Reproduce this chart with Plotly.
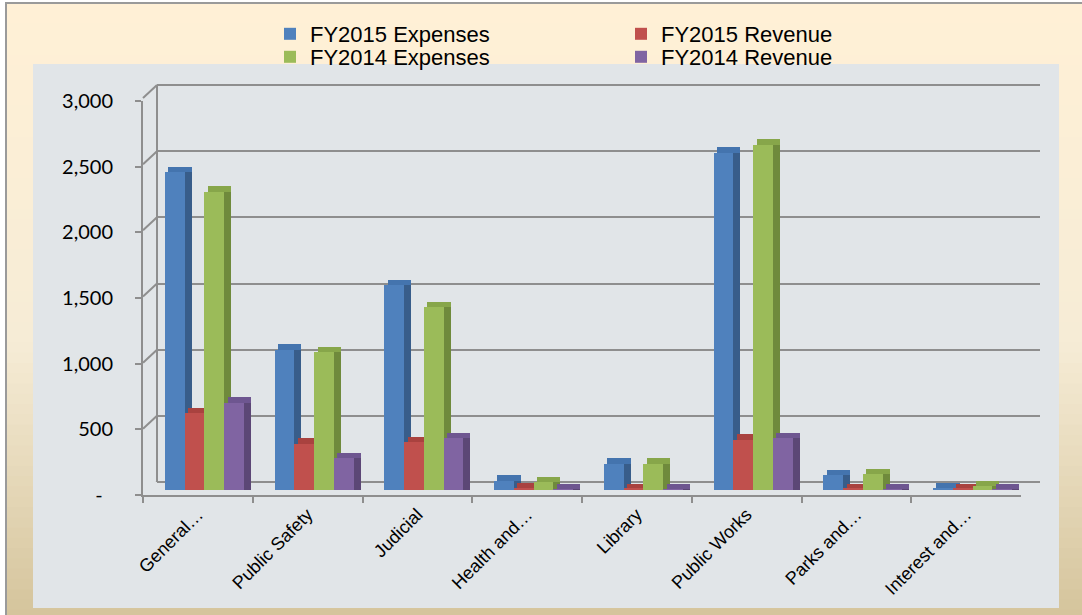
import plotly.graph_objects as go

# ---------------- data ----------------
categories = ["General…", "Public Safety", "Judicial", "Health and…",
              "Library", "Public Works", "Parks and…", "Interest and…"]
fy15_expenses = [2400, 1060, 1550, 70, 200, 2550, 110, 10]
fy15_revenue = [580, 350, 360, 10, 8, 380, 8, 8]
fy14_expenses = [2255, 1040, 1380, 60, 200, 2610, 120, 30]
fy14_revenue = [660, 240, 390, 4, 4, 390, 4, 4]

series_names = ["FY2015 Expenses", "FY2015 Revenue", "FY2014 Expenses", "FY2014 Revenue"]
series_values = [fy15_expenses, fy15_revenue, fy14_expenses, fy14_revenue]

y_ticks = [0, 500, 1000, 1500, 2000, 2500, 3000]
y_ticktext = ["-\u00a0\u00a0", "500", "1,000", "1,500", "2,000", "2,500", "3,000"]

# ---------------- styles ----------------
W, H = 1082, 615
front_colors = ["#4f81bd", "#c0504d", "#9bbb59", "#8064a2"]
side_colors = ["#385d8a", "#8c3836", "#6f8a3c", "#5c4776"]
top_colors = ["#4474ae", "#a9423f", "#87a64a", "#6e5690"]
offsets = [-0.30, -0.12, 0.06, 0.24]
bar_w = 0.18
side_w = 0.064
cap_h = 40
legend_ids = ["legend", "legend2", "legend3", "legend4"]
legend_pos = [(270, 13), (621, 13), (270, 36), (621, 36)]  # px (left, top)

BACK_BOTTOM_PX, BACK_PX_PER_UNIT = 482, 0.13233
BACK_RANGE_TOP = 3100


def fx(px):
    return px / W


def fy(py):
    return 1 - py / H


fig = go.Figure()

# invisible trace to create the back-wall subplot
fig.add_trace(go.Scatter(x=[], y=[], xaxis="x", yaxis="y", showlegend=False, hoverinfo="skip"))

for i, (name, vals) in enumerate(zip(series_names, series_values)):
    # top face
    fig.add_trace(go.Bar(
        x=categories, y=[cap_h] * len(vals), base=vals,
        offset=offsets[i] + 0.03, width=bar_w + side_w - 0.03,
        marker=dict(color=top_colors[i], line=dict(width=0)),
        xaxis="x2", yaxis="y2", showlegend=False, hoverinfo="skip"))
    # side face
    fig.add_trace(go.Bar(
        x=categories, y=vals,
        offset=offsets[i] + bar_w, width=side_w,
        marker=dict(color=side_colors[i], line=dict(width=0)),
        xaxis="x2", yaxis="y2", showlegend=False, hoverinfo="skip"))
    # front face
    fig.add_trace(go.Bar(
        x=categories, y=vals, name=name,
        offset=offsets[i], width=bar_w,
        marker=dict(color=front_colors[i], line=dict(width=0)),
        xaxis="x2", yaxis="y2", legend=legend_ids[i]))

fig.add_trace(go.Scatter(x=categories, y=[None] * len(categories), xaxis="x3", yaxis="y3",
                         showlegend=False, hoverinfo="skip"))

grid_col = "#8e8e8e"

shapes = []
# outer gradient background (vertical bands)
top_rgb = (255, 240, 214)
mid_rgb = (246, 236, 214)
bot_rgb = (213, 196, 156)
n_bands = 60
y_start, y_end = 3, 620
for k in range(n_bands):
    t = k / (n_bands - 1)
    if t < 0.55:
        u = t / 0.55
        c = [round(a + (b - a) * u) for a, b in zip(top_rgb, mid_rgb)]
    else:
        u = (t - 0.55) / 0.45
        c = [round(a + (b - a) * u) for a, b in zip(mid_rgb, bot_rgb)]
    y0 = y_start + (y_end - y_start) * k / n_bands
    y1 = y_start + (y_end - y_start) * (k + 1) / n_bands + 1
    shapes.append(dict(type="rect", xref="paper", yref="paper", layer="below",
                       x0=fx(6), x1=fx(1090), y0=fy(y1), y1=fy(y0),
                       fillcolor="rgb(%d,%d,%d)" % tuple(c), line=dict(width=0)))
# outer frame
shapes.append(dict(type="rect", xref="paper", yref="paper", layer="below",
                   x0=fx(6), x1=fx(1090), y0=fy(625), y1=fy(3),
                   fillcolor="rgba(0,0,0,0)", line=dict(color="#9a9a9a", width=2)))
# inner panel
shapes.append(dict(type="rect", xref="paper", yref="paper", layer="below",
                   x0=fx(33), x1=fx(1059), y0=fy(608), y1=fy(64),
                   fillcolor="#e1e5e8", line=dict(width=0)))
# back wall left edge
shapes.append(dict(type="line", xref="paper", x0=fx(157), x1=fx(157), yref="y",
                   y0=0, y1=y_ticks[-1], layer="below", line=dict(color=grid_col, width=2)))
# perspective connectors from front axis to back wall
for v in y_ticks:
    shapes.append(dict(type="line", xref="paper", xsizemode="pixel", xanchor=fx(143),
                       x0=0, x1=14, yref="y", ysizemode="pixel", yanchor=v, y0=-13, y1=0,
                       layer="below", line=dict(color=grid_col, width=2)))
shapes.append(dict(type="line", xref="paper", xsizemode="pixel", xanchor=fx(1021),
                   x0=0, x1=19, yref="y", ysizemode="pixel", yanchor=0, y0=-13, y1=0,
                   layer="below", line=dict(color=grid_col, width=2)))

legend_font = dict(family="Liberation Sans, Arial", size=22, color="#000000")
layout_legends = {}
for lid, (lx, ly) in zip(legend_ids, legend_pos):
    layout_legends[lid] = dict(x=fx(lx), xanchor="left", y=fy(ly), yanchor="top",
                               orientation="h", itemwidth=30, bgcolor="rgba(0,0,0,0)",
                               borderwidth=0, font=legend_font, itemclick=False,
                               itemdoubleclick=False)

back_top_px = BACK_BOTTOM_PX - BACK_RANGE_TOP * BACK_PX_PER_UNIT
fig.update_layout(
    template="none",
    width=W, height=H,
    margin=dict(l=0, r=0, t=0, b=0, pad=0),
    paper_bgcolor="#ffffff",
    plot_bgcolor="rgba(0,0,0,0)",
    barmode="overlay",
    bargap=0,
    shapes=shapes,
    showlegend=True,
    **layout_legends,
    # back wall
    xaxis=dict(domain=[fx(157), fx(1040)], range=[0, 1], visible=False, anchor="y",
               automargin=False),
    yaxis=dict(domain=[fy(BACK_BOTTOM_PX), fy(back_top_px)], range=[0, BACK_RANGE_TOP],
               anchor="x", automargin=False,
               tickvals=y_ticks, showticklabels=False, ticks="",
               showgrid=True, gridcolor=grid_col, gridwidth=2,
               zeroline=True, zerolinecolor=grid_col, zerolinewidth=2,
               showline=False),
    # bars
    xaxis2=dict(domain=[fx(143), fx(1021)], type="category", categoryarray=categories,
                range=[-0.5, len(categories) - 0.5], visible=False, anchor="y2",
                automargin=False),
    yaxis2=dict(domain=[fy(490), fy(93)], range=[0, 3000], visible=False, anchor="x2",
                automargin=False),
    # front axes
    xaxis3=dict(domain=[fx(143), fx(1021)], type="category", categoryarray=categories,
                range=[-0.5, len(categories) - 0.5], anchor="y3", automargin=False,
                showline=True, linecolor=grid_col, linewidth=2,
                ticks="outside", tickson="boundaries", ticklen=6, tickcolor=grid_col, tickwidth=2,
                tickangle=-45, showgrid=False, zeroline=False,
                tickfont=dict(family="Liberation Sans, Arial", size=18, color="#000000")),
    yaxis3=dict(domain=[fy(495), fy(101)], range=[0, 3000], anchor="x3", automargin=False,
                tickvals=y_ticks, ticktext=y_ticktext,
                showline=True, linecolor=grid_col, linewidth=2,
                ticks="outside", ticklen=6, tickcolor=grid_col, tickwidth=2,
                ticklabelstandoff=18, showgrid=False, zeroline=False,
                tickfont=dict(family="Lato, Liberation Sans", size=20, color="#000000")),
)

fig.write_html("out.html", config={"displayModeBar": False},
               post_script="document.body.style.margin='0px';")
